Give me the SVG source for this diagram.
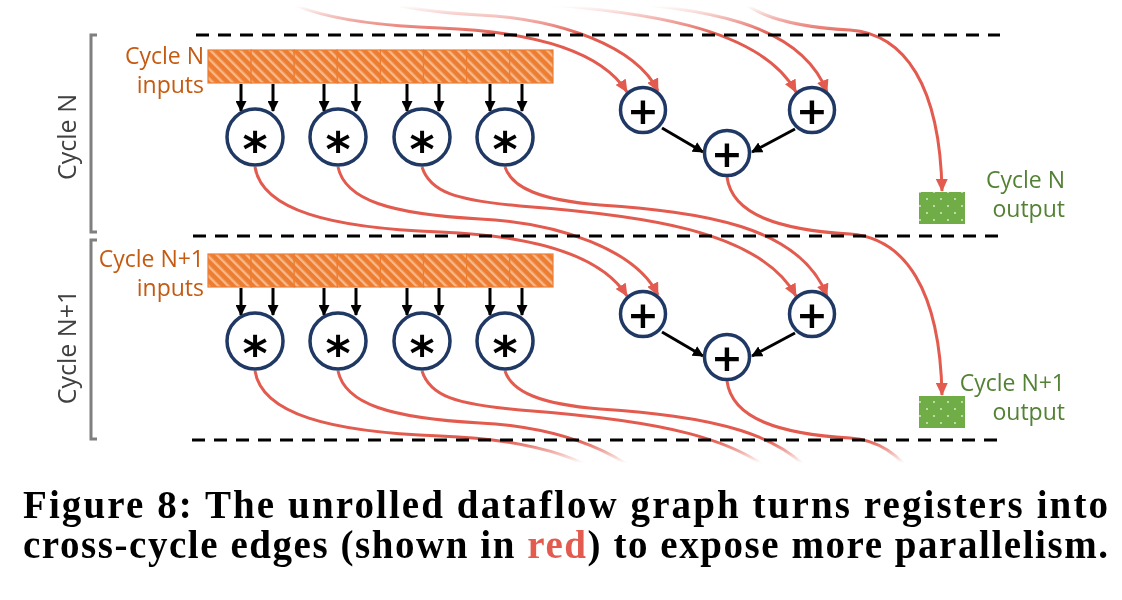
<svg xmlns="http://www.w3.org/2000/svg" width="1122" height="600" viewBox="0 0 1122 600">
<style>
.dash{fill:none;stroke:#000;stroke-width:3;stroke-dasharray:13 9}
.brk{fill:none;stroke:#7f7f7f;stroke-width:3}
.red{fill:none;stroke:#E35B4F;stroke-width:3;marker-end:url(#ra)}
.blk line{fill:none;stroke:#000;stroke-width:3;marker-end:url(#ba)}
.op{fill:#fff;stroke:#203864;stroke-width:3.5}
.sym{font-family:"DejaVu Sans",sans-serif;font-weight:bold;fill:#000;text-anchor:middle}
.lbl{font-family:"Open Sans","Noto Sans",sans-serif;font-size:23px}
.in{fill:#C55A11;text-anchor:end}
.out{fill:#548235;text-anchor:end}
.cyc{font-family:"Open Sans","Noto Sans",sans-serif;font-size:25px;fill:#404040;text-anchor:middle}
.cell{fill:url(#hatch);stroke:#ED7D31;stroke-width:1.2}
.grn{fill:url(#dots)}
.cap{font-family:"Liberation Serif","Times New Roman",serif;font-weight:bold;font-size:39px;fill:#000}
</style>
<defs>
<marker id="ra" markerUnits="userSpaceOnUse" viewBox="0 0 13 12" markerWidth="13" markerHeight="12" refX="12" refY="6" orient="auto"><path d="M0,0 L13,6 L0,12 z" fill="#E35B4F"/></marker>
<marker id="ba" markerUnits="userSpaceOnUse" viewBox="0 0 11 11" markerWidth="11" markerHeight="11" refX="10" refY="5.5" orient="auto"><path d="M0,0 L11,5.5 L0,11 z" fill="#000"/></marker>
<pattern id="hatch" patternUnits="userSpaceOnUse" width="7" height="7" patternTransform="rotate(-45)">
<rect width="7" height="7" fill="#ED7D31"/><rect x="0" y="0" width="2.4" height="7" fill="#F6B98C"/>
</pattern>
<pattern id="dots" patternUnits="userSpaceOnUse" width="14" height="14">
<rect width="14" height="14" fill="#70AD47"/><circle cx="3" cy="3" r="0.9" fill="#fff" fill-opacity="0.8"/><circle cx="10" cy="10" r="0.9" fill="#fff" fill-opacity="0.8"/>
</pattern>
<linearGradient id="gTop" gradientUnits="userSpaceOnUse" x1="0" y1="6" x2="0" y2="34"><stop offset="0" stop-color="#000"/><stop offset="1" stop-color="#fff"/></linearGradient>
<linearGradient id="gBot" gradientUnits="userSpaceOnUse" x1="0" y1="440" x2="0" y2="463"><stop offset="0" stop-color="#fff"/><stop offset="1" stop-color="#000"/></linearGradient>
<mask id="mTop" maskUnits="userSpaceOnUse" x="0" y="0" width="1122" height="600"><rect x="0" y="0" width="1122" height="600" fill="url(#gTop)"/></mask>
<mask id="mBot" maskUnits="userSpaceOnUse" x="0" y="0" width="1122" height="600"><rect x="0" y="0" width="1122" height="600" fill="url(#gBot)"/></mask>
</defs>

<g id="connectors">
 <g class="red">
  <path id="cD" d="M255,167 C262,210 330,228 440,232 C540,236 603,258 627,296"/>
  <path id="cC" d="M338,167 C345,200 390,214 480,219 C560,223 636,250 658,295"/>
  <path id="cB" d="M422,167 C430,192 455,200 520,206 C640,215 760,230 796,296"/>
  <path id="cA" d="M505,167 C512,188 540,200 600,205 C700,212 800,225 827,296"/>
  <path id="cE" d="M727,177 C732,215 780,230 850,234 C905,238 940,290 942,395"/>
  <g mask="url(#mTop)">
   <use href="#cD" transform="translate(0,-204)"/>
   <use href="#cC" transform="translate(0,-204)"/>
   <use href="#cB" transform="translate(0,-204)"/>
   <use href="#cA" transform="translate(0,-204)"/>
   <use href="#cE" transform="translate(0,-204)"/>
  </g>
  <g mask="url(#mBot)">
   <use href="#cD" transform="translate(0,204)"/>
   <use href="#cC" transform="translate(0,204)"/>
   <use href="#cB" transform="translate(0,204)"/>
   <use href="#cA" transform="translate(0,204)"/>
   <use href="#cE" transform="translate(0,204)"/>
  </g>
 </g>
 <g class="blk">
  <line x1="241" y1="84" x2="241" y2="111"/><line x1="273" y1="84" x2="273" y2="111"/>
  <line x1="324" y1="84" x2="324" y2="111"/><line x1="356" y1="84" x2="356" y2="111"/>
  <line x1="407" y1="84" x2="407" y2="111"/><line x1="439" y1="84" x2="439" y2="111"/>
  <line x1="490" y1="84" x2="490" y2="111"/><line x1="522" y1="84" x2="522" y2="111"/>
  <line x1="241" y1="288" x2="241" y2="315"/><line x1="273" y1="288" x2="273" y2="315"/>
  <line x1="324" y1="288" x2="324" y2="315"/><line x1="356" y1="288" x2="356" y2="315"/>
  <line x1="407" y1="288" x2="407" y2="315"/><line x1="439" y1="288" x2="439" y2="315"/>
  <line x1="490" y1="288" x2="490" y2="315"/><line x1="522" y1="288" x2="522" y2="315"/>
  <line x1="662" y1="128" x2="703" y2="152"/>
  <line x1="795" y1="129" x2="752" y2="152"/>
  <line x1="662" y1="332" x2="703" y2="356"/>
  <line x1="795" y1="333" x2="752" y2="356"/>
 </g>
</g>

<g id="separators">
 <path class="dash" d="M196,35H1000"/>
 <path class="dash" d="M193,236H998"/>
 <path class="dash" d="M192,440H998"/>
 <path class="brk" d="M97,35H91V232H97"/>
 <path class="brk" d="M97,240H91V439H97"/>
 <text class="cyc" transform="translate(76,137) rotate(-90)">Cycle N</text>
 <text class="cyc" transform="translate(76,347) rotate(-90)">Cycle N+1</text>
</g>

<g id="inputsN">
 <rect class="cell" x="208" y="50" width="43.1" height="33"/>
 <rect class="cell" x="251.1" y="50" width="43.1" height="33"/>
 <rect class="cell" x="294.2" y="50" width="43.1" height="33"/>
 <rect class="cell" x="337.3" y="50" width="43.1" height="33"/>
 <rect class="cell" x="380.4" y="50" width="43.1" height="33"/>
 <rect class="cell" x="423.5" y="50" width="43.1" height="33"/>
 <rect class="cell" x="466.6" y="50" width="43.1" height="33"/>
 <rect class="cell" x="509.7" y="50" width="43.3" height="33"/>
 <text class="lbl in" x="204" y="64">Cycle N</text>
 <text class="lbl in" x="204" y="93">inputs</text>
</g>
<g id="inputsN1">
 <rect class="cell" x="208" y="254" width="43.1" height="33"/>
 <rect class="cell" x="251.1" y="254" width="43.1" height="33"/>
 <rect class="cell" x="294.2" y="254" width="43.1" height="33"/>
 <rect class="cell" x="337.3" y="254" width="43.1" height="33"/>
 <rect class="cell" x="380.4" y="254" width="43.1" height="33"/>
 <rect class="cell" x="423.5" y="254" width="43.1" height="33"/>
 <rect class="cell" x="466.6" y="254" width="43.1" height="33"/>
 <rect class="cell" x="509.7" y="254" width="43.3" height="33"/>
 <text class="lbl in" x="204" y="267">Cycle N+1</text>
 <text class="lbl in" x="204" y="296">inputs</text>
</g>

<g id="mulN1"><circle class="op" cx="255" cy="137" r="28"/><text class="sym" x="255" y="166" font-size="48">*</text></g>
<g id="mulN2"><circle class="op" cx="338" cy="137" r="28"/><text class="sym" x="338" y="166" font-size="48">*</text></g>
<g id="mulN3"><circle class="op" cx="422" cy="137" r="28"/><text class="sym" x="422" y="166" font-size="48">*</text></g>
<g id="mulN4"><circle class="op" cx="505" cy="137" r="28"/><text class="sym" x="505" y="166" font-size="48">*</text></g>
<g id="addN1"><circle class="op" cx="643" cy="110" r="22.5"/><text class="sym" x="643" y="124" font-size="38">+</text></g>
<g id="addN2"><circle class="op" cx="812" cy="110" r="22.5"/><text class="sym" x="812" y="124" font-size="38">+</text></g>
<g id="addN3"><circle class="op" cx="727" cy="153" r="22.5"/><text class="sym" x="727" y="167" font-size="38">+</text></g>

<g id="mulM1"><circle class="op" cx="255" cy="341" r="28"/><text class="sym" x="255" y="370" font-size="48">*</text></g>
<g id="mulM2"><circle class="op" cx="338" cy="341" r="28"/><text class="sym" x="338" y="370" font-size="48">*</text></g>
<g id="mulM3"><circle class="op" cx="422" cy="341" r="28"/><text class="sym" x="422" y="370" font-size="48">*</text></g>
<g id="mulM4"><circle class="op" cx="505" cy="341" r="28"/><text class="sym" x="505" y="370" font-size="48">*</text></g>
<g id="addM1"><circle class="op" cx="643" cy="314" r="22.5"/><text class="sym" x="643" y="328" font-size="38">+</text></g>
<g id="addM2"><circle class="op" cx="812" cy="314" r="22.5"/><text class="sym" x="812" y="328" font-size="38">+</text></g>
<g id="addM3"><circle class="op" cx="727" cy="357" r="22.5"/><text class="sym" x="727" y="371" font-size="38">+</text></g>

<g id="outputN">
 <rect class="grn" x="919" y="192" width="46" height="32"/>
 <text class="lbl out" x="1065" y="188">Cycle N</text>
 <text class="lbl out" x="1065" y="217">output</text>
</g>
<g id="outputN1">
 <rect class="grn" x="919" y="396" width="46" height="32"/>
 <text class="lbl out" x="1065" y="391">Cycle N+1</text>
 <text class="lbl out" x="1065" y="420">output</text>
</g>

<g id="caption">
 <text class="cap" x="23" y="518" textLength="1085" lengthAdjust="spacing">Figure 8: The unrolled dataflow graph turns registers into</text>
 <text class="cap" x="23" y="558" textLength="1085" lengthAdjust="spacing">cross-cycle edges (shown in <tspan fill="#E35B4F">red</tspan>) to expose more parallelism.</text>
</g>
</svg>
